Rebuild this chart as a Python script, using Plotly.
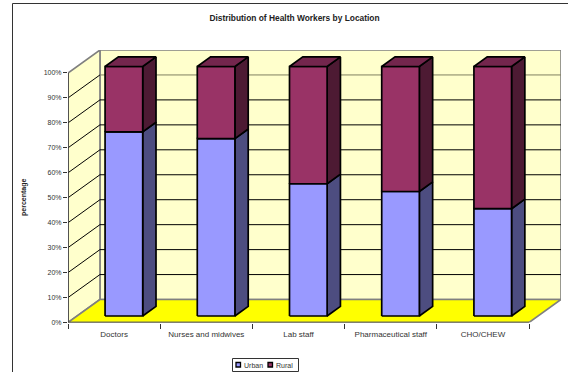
import plotly.graph_objects as go

categories = ["Doctors", "Nurses and midwives", "Lab staff", "Pharmaceutical staff", "CHO/CHEW"]
urban = [73.8, 71.1, 53.0, 49.9, 43.0]
rural = [26.2, 28.9, 47.0, 50.1, 57.0]
y_ticks = list(range(0, 101, 10))

W, H = 568, 372
L, R, T, B = 68, 561, 50, 322.5
CAT_PX = 92.4
PCT_PX = 2.497
DX = 32 / CAT_PX      # full depth of the box, in category units
DY = 23 / PCT_PX      # full depth of the box, in percent units
BAR_W = 0.408
D0, D1 = 0.283, 0.70


def pr(cat, pct, depth=0.0):
    return cat + depth * DX, pct + depth * DY


def poly(pts, fill, line="black", lw=1.7):
    xs = [p[0] for p in pts] + [pts[0][0]]
    ys = [p[1] for p in pts] + [pts[0][1]]
    return go.Scatter(x=xs, y=ys, mode="lines", fill="toself", fillcolor=fill,
                      line=dict(color=line, width=lw), hoverinfo="skip", showlegend=False)


def seg(a, b, color="black", lw=1.0):
    return go.Scatter(x=[a[0], b[0]], y=[a[1], b[1]], mode="lines",
                      line=dict(color=color, width=lw), hoverinfo="skip", showlegend=False)


n = len(categories)
fig = go.Figure()

# walls and floor
fig.add_trace(poly([pr(0, 0, 1), pr(n, 0, 1), pr(n, 100, 1), pr(0, 100, 1)], "#FFFFCC", "#808080", 1.6))
fig.add_trace(poly([pr(0, 0, 0), pr(0, 0, 1), pr(0, 100, 1), pr(0, 100, 0)], "#FFFFCC", "#808080", 1.6))
fig.add_trace(poly([pr(0, 0, 0), pr(n, 0, 0), pr(n, 0, 1), pr(0, 0, 1)], "#FFFF00", "#808080", 1.6))

# gridlines on side and back walls
for t in y_ticks[1:-1]:
    fig.add_trace(seg(pr(0, t, 0), pr(0, t, 1)))
    fig.add_trace(seg(pr(0, t, 1), pr(n, t, 1), "#808060" if t == 90 else "black"))

# axis lines
fig.add_trace(seg(pr(0, 0, 0), pr(0, 100, 0), "#404040", 1.6))
fig.add_trace(seg(pr(0, 0, 0), pr(n, 0, 0), "#404040", 1.6))

# bars
for i in range(n):
    x0 = i + 0.304
    x1 = x0 + BAR_W
    base = 0.0
    for val, front, side in ((urban[i], "#9999FF", "#4D4D80"), (rural[i], "#993366", "#4D1A33")):
        top = base + val
        fig.add_trace(poly([pr(x1, base, D0), pr(x1, base, D1), pr(x1, top, D1), pr(x1, top, D0)], side))
        fig.add_trace(poly([pr(x0, base, D0), pr(x1, base, D0), pr(x1, top, D0), pr(x0, top, D0)], front))
        base = top
    fig.add_trace(poly([pr(x0, base, D0), pr(x1, base, D0), pr(x1, base, D1), pr(x0, base, D1)], "#73264D"))

axfont = dict(family="Liberation Sans, Arial", color="#333333")
fig.update_xaxes(
    automargin=False,
    domain=[L / W, R / W], range=[0, n + DX], showgrid=False, zeroline=False, showline=False,
    tickmode="array", tickvals=[i + 0.5 for i in range(n)], ticktext=categories,
    ticks="", ticklen=0, ticklabelstandoff=5, tickfont=dict(size=8, **axfont),
    minor=dict(tickmode="linear", tick0=0, dtick=1, ticks="outside", ticklen=5, tickwidth=1, tickcolor="#333333"),
)
fig.update_yaxes(
    automargin=False,
    domain=[1 - B / H, 1 - T / H], range=[0, 100 + DY], showgrid=False, zeroline=False, showline=False,
    tickmode="array", tickvals=y_ticks, ticktext=[f"{t}%" for t in y_ticks],
    ticks="outside", ticklen=4, tickwidth=1, tickcolor="#333333", tickfont=dict(size=7, **axfont),
)


def px_x(p):
    return p / W


def px_y(p):
    return 1 - p / H


def rect(x0, x1, y0, y1, line, fill=None, lw=1):
    return dict(type="rect", xref="paper", yref="paper", x0=px_x(x0), x1=px_x(x1), y0=px_y(y0), y1=px_y(y1),
                line=dict(color=line, width=lw), fillcolor=fill)


shapes = [
    rect(12.5, 620, 3.5, 420, "#333333"),      # chart frame, running off the picture
    rect(232.5, 298.5, 358.5, 371.5, "#333333", "white"),  # legend box
    rect(236, 240.5, 362.5, 367, "black", "#9999FF", 1.3),
    rect(268, 272.5, 362.5, 367, "black", "#993366", 1.3),
]
annotations = [
    dict(text="Urban", xref="paper", yref="paper", x=px_x(242), y=px_y(365), xanchor="left", yanchor="middle",
         showarrow=False, font=dict(size=7, **axfont)),
    dict(text="Rural", xref="paper", yref="paper", x=px_x(273.5), y=px_y(365), xanchor="left", yanchor="middle",
         showarrow=False, font=dict(size=7, **axfont)),
    dict(text="<b>percentage</b>", xref="paper", yref="paper", x=px_x(23.5), y=px_y(197.5), textangle=-90,
         xanchor="center", yanchor="middle", showarrow=False,
         font=dict(size=7, family="Liberation Sans, Arial", color="#222222")),
]

fig.update_layout(
    width=W, height=H, autosize=False, showlegend=False,
    margin=dict(l=0, r=0, t=0, b=0), paper_bgcolor="white", plot_bgcolor="rgba(0,0,0,0)",
    title=dict(text="<b>Distribution of Health Workers by Location</b>", x=294.5 / W, y=1 - 18 / H,
               xanchor="center", yanchor="middle",
               font=dict(size=8.4, family="Liberation Sans, Arial", color="#222222")),
    shapes=shapes, annotations=annotations,
)
fig.write_html("out.html", config=dict(displayModeBar=False),
               post_script="document.body.style.margin='0';document.body.style.overflow='hidden';")
